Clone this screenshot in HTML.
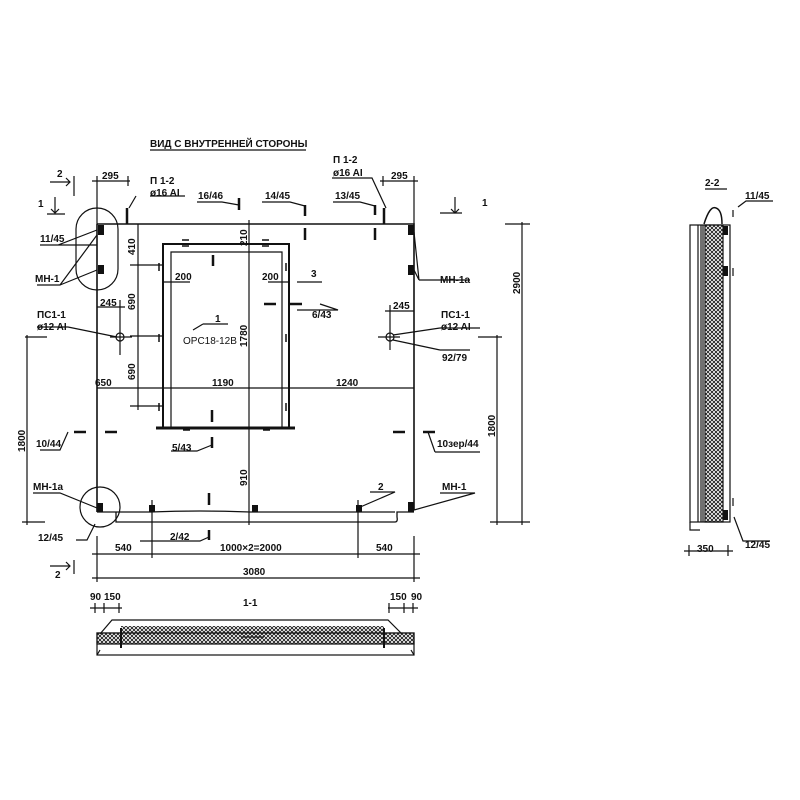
<!DOCTYPE html>
<html><head><meta charset="utf-8"><style>html,body{margin:0;padding:0;background:#fff}svg{display:block}text{font-family:"Liberation Sans",sans-serif;font-weight:bold;font-size:10px;fill:#111}</style></head><body>
<svg width="800" height="800" viewBox="0 0 800 800" xmlns="http://www.w3.org/2000/svg">
<defs>
<pattern id="xh" width="4" height="4" patternUnits="userSpaceOnUse"><path d="M0 0L4 4M4 0L0 4" stroke="#111" stroke-width="0.8"/></pattern>
</defs>
<g stroke="#111" fill="none" stroke-width="1.2">
<line x1="150" y1="150" x2="306" y2="150"/>
<path d="M97 224H414V510" stroke-width="1.6"/>
<line x1="97" y1="224" x2="97" y2="512" stroke-width="1.6"/>
<path d="M97 512H116M116 512V522H395Q398 522 397 517V512H414" stroke-width="1.3"/>
<path d="M116 512H150Q200 510 250 512H395"/>
<path d="M163 428V244H289V428" stroke-width="2"/>
<path d="M171 428V252H282V428"/>
<path d="M156 428H295" stroke-width="3"/>
<line x1="249" y1="220" x2="249" y2="525"/>
<line x1="97" y1="388" x2="414" y2="388"/>
<line x1="138" y1="224" x2="138" y2="410"/>
<line x1="130" y1="265" x2="163" y2="265"/><line x1="130" y1="336" x2="163" y2="336"/><line x1="130" y1="406" x2="163" y2="406"/>
<line x1="163" y1="282" x2="190" y2="282"/><line x1="268" y1="282" x2="289" y2="282"/>
<line x1="522" y1="222" x2="522" y2="525"/><line x1="505" y1="224" x2="530" y2="224"/><line x1="490" y1="522" x2="530" y2="522"/>
<line x1="497" y1="335" x2="497" y2="525"/><line x1="478" y1="337" x2="502" y2="337"/>
<line x1="27" y1="335" x2="27" y2="525"/><line x1="25" y1="337" x2="47" y2="337"/><line x1="22" y1="522" x2="45" y2="522"/>
<line x1="92" y1="554" x2="420" y2="554"/><line x1="92" y1="578" x2="420" y2="578"/>
<line x1="97" y1="536" x2="97" y2="582"/><line x1="152" y1="500" x2="152" y2="558"/><line x1="358" y1="500" x2="358" y2="558"/><line x1="414" y1="536" x2="414" y2="582"/>
<line x1="92" y1="181" x2="130" y2="181"/><line x1="97" y1="176" x2="97" y2="224"/><line x1="128" y1="176" x2="128" y2="186"/>
<line x1="380" y1="181" x2="418" y2="181"/><line x1="414" y1="176" x2="414" y2="224"/><line x1="383" y1="176" x2="383" y2="186"/>
<line x1="97" y1="307" x2="125" y2="307"/><line x1="120" y1="300" x2="120" y2="355"/><line x1="110" y1="337" x2="132" y2="337"/>
<line x1="385" y1="311" x2="414" y2="311"/><line x1="390" y1="305" x2="390" y2="350"/><line x1="378" y1="337" x2="400" y2="337"/>
<circle cx="120" cy="337" r="4"/><circle cx="390" cy="337" r="4"/>
<rect x="76" y="208" width="42" height="82" rx="21"/>
<circle cx="100" cy="507" r="20"/>
<g stroke-width="2.5"><line x1="127" y1="208" x2="127" y2="224"/><line x1="384" y1="208" x2="384" y2="224"/>
<line x1="239" y1="198" x2="239" y2="210"/><line x1="305" y1="205" x2="305" y2="216"/><line x1="375" y1="205" x2="375" y2="215"/>
<line x1="305" y1="228" x2="305" y2="240"/><line x1="375" y1="228" x2="375" y2="240"/><line x1="213" y1="255" x2="213" y2="266"/>
<line x1="264" y1="304" x2="276" y2="304"/><line x1="290" y1="304" x2="302" y2="304"/>
<line x1="105" y1="432" x2="117" y2="432"/><line x1="74" y1="432" x2="86" y2="432"/><line x1="393" y1="432" x2="405" y2="432"/><line x1="423" y1="432" x2="435" y2="432"/>
<line x1="212" y1="410" x2="212" y2="422"/><line x1="212" y1="437" x2="212" y2="448"/><line x1="209" y1="493" x2="209" y2="505"/><line x1="209" y1="530" x2="209" y2="540"/>
</g>
<g fill="#111" stroke="none"><rect x="98" y="225" width="6" height="10"/><rect x="98" y="265" width="6" height="9"/><rect x="408" y="225" width="6" height="10"/><rect x="408" y="265" width="6" height="10"/>
<rect x="97" y="503" width="6" height="9"/><rect x="408" y="502" width="6" height="10"/>
<rect x="149" y="505" width="6" height="7"/><rect x="252" y="505" width="6" height="7"/><rect x="356" y="505" width="6" height="7"/></g>
<g stroke-width="1.5"><path d="M182 240h7M182 246h7M262 240h7M262 246h7M159 263v8M159 334v8M159 403v8M286 263v8M286 334v8M286 403v8M183 430h7M263 430h7"/></g>
<path d="M40 245H58L97 230M58 245H97M37 285H60L97 235M60 285L97 270"/>
<path d="M37 327H68L117 337M136 196L129 208M150 196H185"/>
<path d="M197 202H222L239 205M262 202H290L305 206M333 202H360L375 206M332 178H372L386 208"/>
<path d="M419 280H470M419 280L414 232M419 280L414 270M440 328H480M440 328L393 335M440 350H470M440 350L393 340"/>
<path d="M297 310H338L320 304M297 282H322"/>
<path d="M203 324H228M203 324L193 330M40 450H60L68 432M435 452H480M435 452L428 432M171 451H197L212 445"/>
<path d="M33 493H60L97 508M140 541H200L209 537M76 540H87L95 524M440 493H475L414 510M370 492H395L358 508"/>
<path d="M50 182H70M66 178L70 182L66 186M74 176V196M55 197V213M51 209L55 213L59 209M47 214H65"/>
<path d="M440 213H462M455 197V213M451 209L455 213L459 209"/>
<path d="M50 566H70M66 562L70 566L66 570M74 560V574"/>
<line x1="241" y1="637" x2="264" y2="637"/>
<path d="M100 634L112 620H388L402 634"/>
<rect x="97" y="633" width="317" height="11" fill="url(#xh)"/>
<rect x="97" y="633" width="317" height="22"/>
<path d="M97 655L100 650M414 655L411 650"/>
<rect x="121" y="626" width="263" height="8" fill="url(#xh)" stroke="none"/>
<line x1="121" y1="628" x2="121" y2="648" stroke-width="2"/><line x1="384" y1="628" x2="384" y2="648" stroke-width="2"/>
<path d="M90 608H122M95 603V613M104 603V613M119 603V613M388 608H418M389 603V613M404 603V613M413 603V613"/>
<line x1="705" y1="189" x2="727" y2="189"/>
<rect x="690" y="225" width="40" height="297"/>
<path d="M690 522V530H700"/>
<line x1="698" y1="225" x2="698" y2="522"/><line x1="701" y1="225" x2="701" y2="522"/><line x1="703" y1="225" x2="703" y2="522"/>
<rect x="705" y="225" width="18" height="297" fill="url(#xh)"/>
<path d="M704 224Q710 205 716 208Q722 210 722 224" stroke-width="1.5"/>
<g fill="#111" stroke="none"><rect x="723" y="226" width="5" height="9"/><rect x="723" y="266" width="5" height="10"/><rect x="723" y="510" width="5" height="10"/></g>
<path d="M733 210V217M733 268V276M733 498V506M734 517L743 541H770M738 207L746 201H773"/>
<path d="M684 551H733M689 545V556M728 545V556"/>
</g>
<g>
<text x="150" y="147" font-size="9">ВИД С ВНУТРЕННЕЙ СТОРОНЫ</text>
<text x="57" y="177" font-size="11">2</text><text x="38" y="207" font-size="11">1</text>
<text x="102" y="179">295</text><text x="391" y="179">295</text>
<text x="150" y="184">П 1-2</text><text x="150" y="196">ø16 AI</text>
<text x="333" y="163">П 1-2</text><text x="333" y="176">ø16 AI</text>
<text x="198" y="199">16/46</text><text x="265" y="199">14/45</text><text x="335" y="199">13/45</text>
<text x="482" y="206" font-size="11">1</text>
<text x="40" y="242">11/45</text><text x="35" y="282">МН-1</text>
<text x="440" y="283">МН-1а</text>
<text x="37" y="318">ПС1-1</text><text x="37" y="330">ø12 AI</text>
<text x="441" y="318">ПС1-1</text><text x="441" y="330">ø12 AI</text>
<text x="100" y="306">245</text><text x="393" y="309">245</text>
<text x="442" y="361">92/79</text>
<text x="175" y="280">200</text><text x="262" y="280">200</text>
<text x="311" y="277" font-size="11">3</text><text x="312" y="318">6/43</text>
<text x="215" y="322" font-size="11">1</text>
<text x="183" y="344" style="font-weight:normal" font-size="9">OPC18-12B</text>
<text x="95" y="386">650</text><text x="212" y="386">1190</text><text x="336" y="386">1240</text>
<text x="36" y="447">10/44</text><text x="437" y="447">10зер/44</text>
<text x="172" y="451">5/43</text>
<text x="33" y="490">МН-1а</text><text x="442" y="490">МН-1</text>
<text x="378" y="490" font-size="11">2</text>
<text x="38" y="541">12/45</text><text x="170" y="540">2/42</text>
<text x="115" y="551">540</text><text x="220" y="551">1000×2=2000</text><text x="376" y="551">540</text>
<text x="243" y="575">3080</text>
<text x="55" y="578" font-size="11">2</text>
<text x="90" y="600" font-size="8">90</text><text x="104" y="600" font-size="8">150</text>
<text x="390" y="600" font-size="8">150</text><text x="411" y="600" font-size="8">90</text>
<text x="243" y="606" font-size="11">1-1</text>
<text x="705" y="186" font-size="11">2-2</text>
<text x="745" y="199">11/45</text><text x="745" y="548">12/45</text><text x="697" y="552">350</text>
<g font-size="10">
<text transform="translate(135,255) rotate(-90)">410</text>
<text transform="translate(135,310) rotate(-90)">690</text>
<text transform="translate(135,380) rotate(-90)">690</text>
<text transform="translate(247,246) rotate(-90)">210</text>
<text transform="translate(247,347) rotate(-90)">1780</text>
<text transform="translate(247,486) rotate(-90)">910</text>
<text transform="translate(520,294) rotate(-90)">2900</text>
<text transform="translate(495,437) rotate(-90)">1800</text>
<text transform="translate(25,452) rotate(-90)">1800</text>
</g>
</g>
</svg>
</body></html>
